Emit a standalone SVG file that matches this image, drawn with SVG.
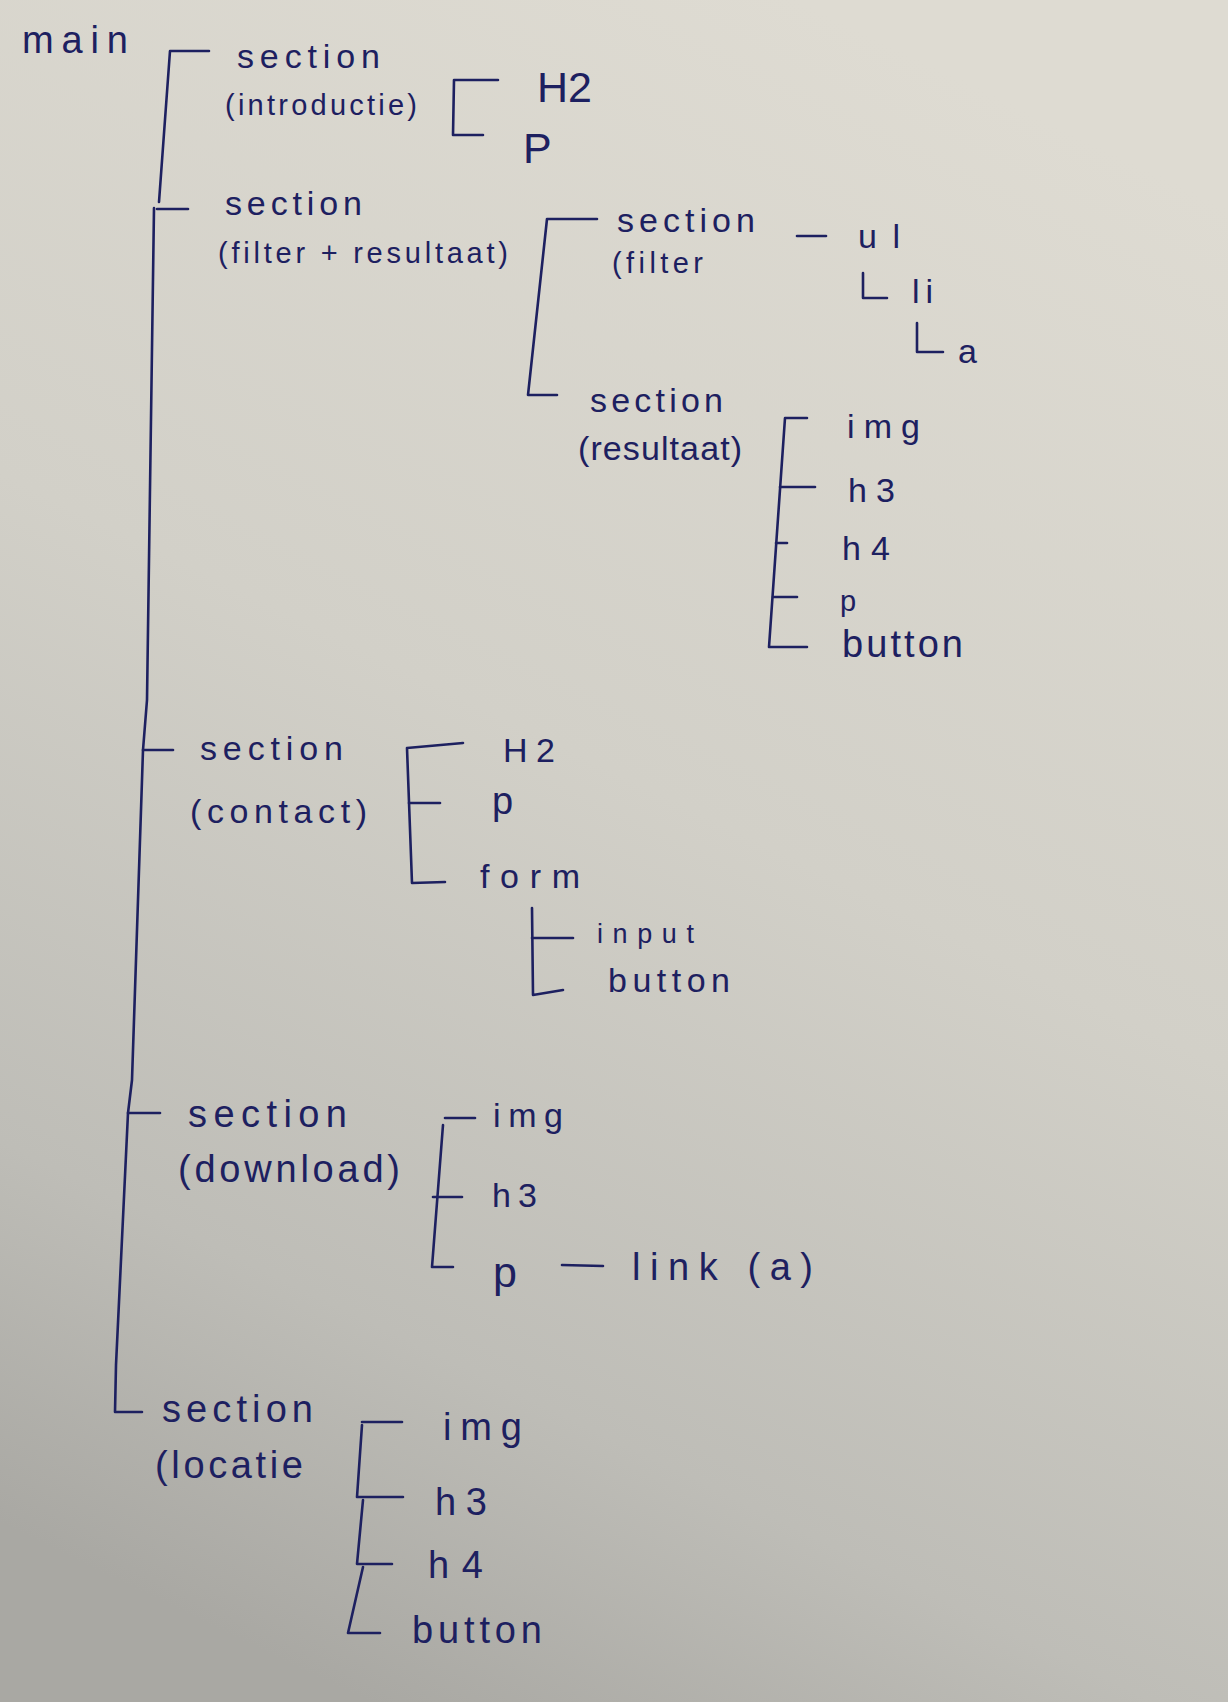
<svg xmlns="http://www.w3.org/2000/svg" width="1228" height="1702" viewBox="0 0 1228 1702">
<defs>
<linearGradient id="bg" x1="0.65" y1="0" x2="0.3" y2="1">
<stop offset="0" stop-color="#dedbd2"/>
<stop offset="0.45" stop-color="#d2d0c8"/>
<stop offset="0.8" stop-color="#bebdb7"/>
<stop offset="1" stop-color="#a9a8a3"/>
</linearGradient>
<style>
text{font-family:"Liberation Sans","DejaVu Sans",sans-serif;fill:#1d2060}
.s30{font-size:34px}.s26{font-size:29px}.s34{font-size:38px}.s24{font-size:27px}.s40{font-size:43px}
#connectors path{fill:none;stroke:#1d2060;stroke-width:2.6;stroke-linecap:round;stroke-linejoin:round}
</style>
</defs>
<rect width="1228" height="1702" fill="url(#bg)"/>
<g id="connectors">
<path d="M209,51 L170,51 L159,202"/>
<path d="M157,209 L188,209"/>
<path d="M154,208 L147,700 L143,750 L132,1080 L128,1113 L116,1365 L115,1412 L142,1412"/>
<path d="M143,750 L173,750"/>
<path d="M128,1113 L160,1113"/>
<path d="M498,80 L454,80 L453,135 L483,135"/>
<path d="M597,219 L547,219 L528,395 L557,395"/>
<path d="M797,236 L826,236"/>
<path d="M863,273 L863,298 L887,298"/>
<path d="M917,323 L917,352 L943,352"/>
<path d="M807,418 L785,418 L769,647 L807,647"/>
<path d="M780,487 L815,487"/>
<path d="M776,543 L787,543"/>
<path d="M773,597 L797,597"/>
<path d="M463,743 L407,748 L412,883 L445,882"/>
<path d="M409,803 L440,803"/>
<path d="M532,908 L533,995 L563,990"/>
<path d="M532,938 L573,938"/>
<path d="M475,1118 L445,1118"/>
<path d="M443,1125 L432,1267 L453,1267"/>
<path d="M433,1197 L462,1197"/>
<path d="M562,1265 L603,1266"/>
<path d="M402,1422 L362,1422"/>
<path d="M362,1425 L357,1497 L403,1497"/>
<path d="M363,1500 L357,1564 L392,1564"/>
<path d="M363,1567 L348,1633 L380,1633"/>
</g>
<g id="node-main"><text class="s34" x="22" y="53" textLength="106" lengthAdjust="spacing">main</text></g>
<g id="node-intro">
<text class="s30" x="237" y="68" textLength="143" lengthAdjust="spacing">section</text>
<text class="s26" x="225" y="115" textLength="192" lengthAdjust="spacing">(introductie)</text>
</g>
<g id="node-intro-h2"><text class="s40" x="537" y="102" textLength="55" lengthAdjust="spacing">H2</text></g>
<g id="node-intro-p"><text class="s40" x="523" y="163" textLength="30" lengthAdjust="spacing">P</text></g>
<g id="node-filterresult">
<text class="s30" x="225" y="215" textLength="137" lengthAdjust="spacing">section</text>
<text class="s26" x="218" y="263" textLength="290" lengthAdjust="spacing">(filter + resultaat)</text>
</g>
<g id="node-filter">
<text class="s30" x="617" y="232" textLength="138" lengthAdjust="spacing">section</text>
<text class="s26" x="612" y="273" textLength="91" lengthAdjust="spacing">(filter</text>
</g>
<g id="node-ul"><text class="s30" x="858" y="248" textLength="42" lengthAdjust="spacing">ul</text></g>
<g id="node-li"><text class="s30" x="912" y="303" textLength="21" lengthAdjust="spacing">li</text></g>
<g id="node-a"><text class="s30" x="958" y="363" textLength="22" lengthAdjust="spacing">a</text></g>
<g id="node-resultaat">
<text class="s30" x="590" y="412" textLength="133" lengthAdjust="spacing">section</text>
<text class="s30" x="578" y="460" textLength="164" lengthAdjust="spacing">(resultaat)</text>
</g>
<g id="node-res-img"><text class="s30" x="847" y="438" textLength="73" lengthAdjust="spacing">img</text></g>
<g id="node-res-h3"><text class="s30" x="848" y="502" textLength="47" lengthAdjust="spacing">h3</text></g>
<g id="node-res-h4"><text class="s30" x="842" y="560" textLength="48" lengthAdjust="spacing">h4</text></g>
<g id="node-res-p"><text class="s26" x="840" y="611" textLength="17" lengthAdjust="spacing">p</text></g>
<g id="node-res-button"><text class="s34" x="842" y="657" textLength="121" lengthAdjust="spacing">button</text></g>
<g id="node-contact">
<text class="s30" x="200" y="760" textLength="143" lengthAdjust="spacing">section</text>
<text class="s30" x="190" y="823" textLength="177" lengthAdjust="spacing">(contact)</text>
</g>
<g id="node-contact-h2"><text class="s30" x="503" y="762" textLength="52" lengthAdjust="spacing">H2</text></g>
<g id="node-contact-p"><text class="s34" x="492" y="814" textLength="30" lengthAdjust="spacing">p</text></g>
<g id="node-form"><text class="s30" x="480" y="888" textLength="100" lengthAdjust="spacing">form</text></g>
<g id="node-input"><text class="s24" x="597" y="943" textLength="97" lengthAdjust="spacing">input</text></g>
<g id="node-form-button"><text class="s30" x="608" y="992" textLength="122" lengthAdjust="spacing">button</text></g>
<g id="node-download">
<text class="s34" x="188" y="1127" textLength="159" lengthAdjust="spacing">section</text>
<text class="s34" x="178" y="1182" textLength="222" lengthAdjust="spacing">(download)</text>
</g>
<g id="node-dl-img"><text class="s30" x="493" y="1127" textLength="70" lengthAdjust="spacing">img</text></g>
<g id="node-dl-h3"><text class="s30" x="492" y="1207" textLength="45" lengthAdjust="spacing">h3</text></g>
<g id="node-dl-p"><text class="s40" x="493" y="1287" textLength="30" lengthAdjust="spacing">p</text></g>
<g id="node-link"><text class="s34" x="632" y="1280" textLength="181" lengthAdjust="spacing">link (a)</text></g>
<g id="node-locatie">
<text class="s34" x="162" y="1422" textLength="151" lengthAdjust="spacing">section</text>
<text class="s34" x="155" y="1478" textLength="148" lengthAdjust="spacing">(locatie</text>
</g>
<g id="node-loc-img"><text class="s34" x="443" y="1440" textLength="79" lengthAdjust="spacing">img</text></g>
<g id="node-loc-h3"><text class="s34" x="435" y="1515" textLength="52" lengthAdjust="spacing">h3</text></g>
<g id="node-loc-h4"><text class="s34" x="428" y="1578" textLength="55" lengthAdjust="spacing">h4</text></g>
<g id="node-loc-button"><text class="s34" x="412" y="1643" textLength="130" lengthAdjust="spacing">button</text></g>
</svg>
